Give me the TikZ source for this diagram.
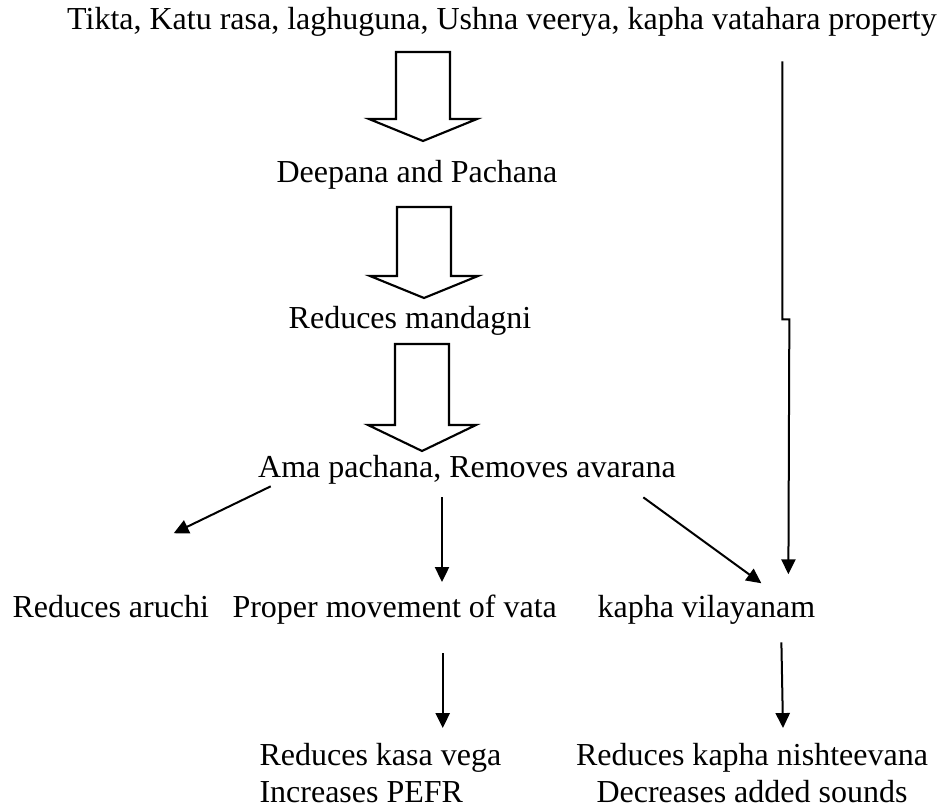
\documentclass[tikz,border=0pt]{standalone}
\usepackage{fontspec}
\setmainfont{Liberation Serif}
\usetikzlibrary{arrows.meta,calc}

% hollow block arrow: centre x, stem top, head base, tip
\newcommand{\blockarrow}[4]{%
  \draw[hollow] (#1-27,#2) -- (#1+27,#2) -- (#1+27,#3) -- (#1+54,#3)
    -- (#1,#4) -- (#1-54,#3) -- (#1-27,#3) -- cycle;}

\begin{document}
\begin{tikzpicture}[
        x=0.375pt, y=-0.375pt, % one unit is one pixel
        txt/.style={inner sep=0pt, anchor=base, font=\fontsize{12pt}{13.8pt}\selectfont}, % Text styling
        hollow/.style={draw, line width=0.8pt, line join=miter}, % Block arrow styling
        arr/.style={line width=0.75pt, -{Triangle[length=5.6pt,width=5.3pt]}} % Arrow styling
        ]
        \useasboundingbox (0,0) rectangle (940,809);

        % Define nodes
        \node (prop) [txt] at (502,30) {Tikta, Katu rasa, laghuguna, Ushna veerya, kapha vatahara property};
        \node (deep) [txt] at (417,183) {Deepana and Pachana};
        \node (mand) [txt] at (410,328) {Reduces mandagni};
        \node (ama) [txt] at (467,477) {Ama pachana, Removes avarana};
        \node (aruchi) [txt, anchor=base west] at (12,617) {Reduces aruchi};
        \node (vata) [txt, anchor=base west] at (232,617) {Proper movement of vata};
        \node (kapha) [txt, anchor=base west] at (597,617) {kapha vilayanam};
        \node (kasa) [txt, anchor=north west, align=left] at (259,743) {Reduces kasa vega\\Increases PEFR};
        \node (sounds) [txt, anchor=north, align=center] at (752,743) {Reduces kapha nishteevana\\Decreases added sounds};

        % Draw block arrows
        \blockarrow{423}{52}{119}{141}
        \blockarrow{424}{207}{276}{298}
        \blockarrow{422}{344}{425}{451}

        % Free ends of the arrows
        \coordinate (amaL) at ($(ama.south west)+(13,2)$);
        \coordinate (amaM) at ($(ama.south)+(-25,13)$);
        \coordinate (amaR) at ($(ama.south east)+(-33,13)$);
        \coordinate (vataB) at ($(vata.south)+(48,29)$);
        \coordinate (kaphaB) at ($(kapha.south)+(75,18)$);

        % Draw arrows
        \draw[arr] (amaL) -- ($(aruchi.north)+(63,-61)$);
        \draw[arr] (amaM) -- ($(amaM |- vata.north)+(0,-12)$);
        \draw[arr] (amaR) -- ($(kapha.north)+(55,-11)$);
        \draw[arr] ($(prop.south east)+(-155,24)$) -- ++(0,258) -- ++(7,0) -- ($(kapha.north)+(82,-20)$);

        \draw[arr] (vataB) -- ($(vataB |- kasa.north)+(0,-15)$);
        \draw[arr] (kaphaB) -- ($(sounds.north)+(31,-15)$);

    \end{tikzpicture}
\end{document}
